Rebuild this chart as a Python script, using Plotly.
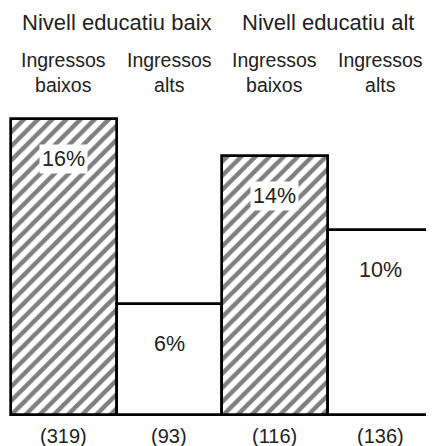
import plotly.graph_objects as go

# ---- data ----
education_levels = ["Nivell educatiu baix", "Nivell educatiu alt"]
income_labels = ["Ingressos<br>baixos", "Ingressos<br>alts", "Ingressos<br>baixos", "Ingressos<br>alts"]
percent_values = [16, 6, 14, 10]
sample_sizes = [319, 93, 116, 136]
hatched = [True, False, True, False]

FONT = "Liberation Sans, Arial, Helvetica, sans-serif"
OFF = 8  # page body margin
W, H = 434 - OFF, 446 - OFF
PX_PER_UNIT_X = 105.5
LEFT_PX = 11 - OFF
BASE_PX = 415 - OFF
PX_PER_PCT = 18.5

xs = list(range(len(percent_values)))

fig = go.Figure()
fig.add_trace(go.Bar(
    x=xs,
    y=percent_values,
    width=1,
    marker=dict(
        color="white",
        line=dict(color="black", width=2.7),
        pattern=dict(
            shape=["/" if h else "" for h in hatched],
            size=10,
            solidity=0.45,
            fgcolor="black",
            bgcolor="white",
            fillmode="overlay",
        ),
    ),
    hoverinfo="skip",
    showlegend=False,
))

annotations = []
# percentage labels inside bars (white box)
for x, v in zip(xs, percent_values):
    annotations.append(dict(
        x=x, y=v, xref="x", yref="y", text=f"{v}%", showarrow=False,
        yanchor="middle", yshift=-40, bgcolor="white", borderpad=2,
        font=dict(family=FONT, size=21.5, color="#222"),
    ))

def py(p):
    return 1 - (p - OFF) / H

# sample sizes below bars
for x, n in zip(xs, sample_sizes):
    annotations.append(dict(
        x=x, y=py(436), xref="x", yref="paper", text=f"({n})", showarrow=False,
        yanchor="middle", font=dict(family=FONT, size=20, color="#222"),
    ))

# income sub-headers
for x, lab in zip(xs, income_labels):
    annotations.append(dict(
        x=x, y=py(72), xref="x", yref="paper", text=lab, showarrow=False,
        yanchor="middle", font=dict(family=FONT, size=19.5, color="#222"),
    ))

# education headers
for i, lab in enumerate(education_levels):
    annotations.append(dict(
        x=(xs[2 * i] + xs[2 * i + 1]) / 2, y=py(22), xref="x", yref="paper",
        text=lab, showarrow=False, yanchor="middle",
        font=dict(family=FONT, size=22, color="#222"),
    ))

x0 = -0.5 - LEFT_PX / PX_PER_UNIT_X
fig.update_layout(
    width=W, height=H,
    margin=dict(l=0, r=0, t=0, b=0),
    paper_bgcolor="white", plot_bgcolor="white",
    bargap=0,
    xaxis=dict(visible=False, range=[x0, x0 + W / PX_PER_UNIT_X], fixedrange=True),
    yaxis=dict(visible=False, range=[(BASE_PX - H) / PX_PER_PCT, BASE_PX / PX_PER_PCT], fixedrange=True),
    annotations=annotations,
    showlegend=False,
)

fig.write_html("out.html")
